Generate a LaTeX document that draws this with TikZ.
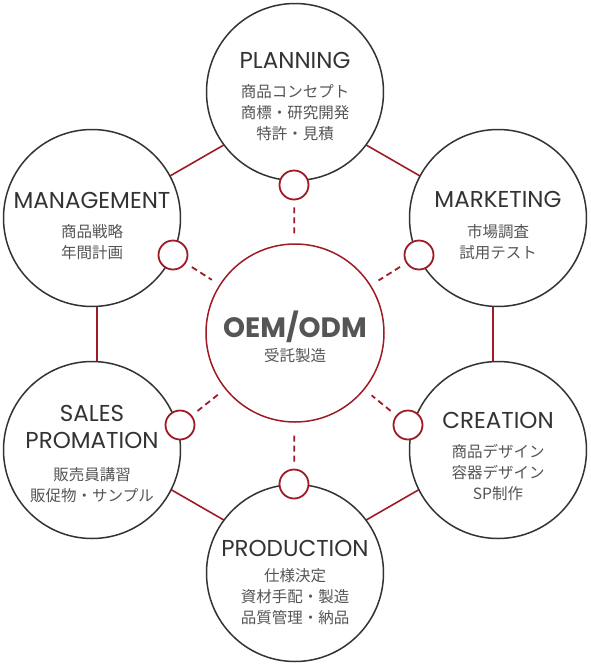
\documentclass[tikz,border=0pt]{standalone}
\usepackage{fontspec}
\setmainfont{Poppins}
\newfontfamily\jpfont{Noto Sans CJK JP}
\definecolor{oemred}{RGB}{158,27,38}
\definecolor{ink}{RGB}{51,51,51}
\definecolor{txtgray}{RGB}{85,85,85}
\tikzset{
	bigcirc/.style={circle,draw=ink,line width=1.5pt,fill=white,minimum size=177pt,inner sep=0pt},
	midcirc/.style={circle,draw=oemred,line width=1.5pt,fill=white,minimum size=178pt,inner sep=0pt},
	dotcirc/.style={circle,draw=oemred,line width=1.8pt,fill=white,minimum size=29pt,inner sep=0pt},
	redline/.style={draw=oemred,line width=1.6pt},
	dashline/.style={draw=oemred,line width=1.8pt,dash pattern=on 6pt off 4pt,shorten <=7pt,shorten >=9pt},
	ttl/.style={text=ink,inner sep=0pt,align=center,font=\fontsize{23}{27}\selectfont},
	jp/.style={text=txtgray,inner sep=0pt,align=center,font=\jpfont\fontsize{15.5}{21}\selectfont}
}
\begin{document}
\begin{tikzpicture}[x=1pt,y=-1pt]
	\useasboundingbox (0,0) rectangle (590,665);
	
	% hexagon behind the circles
	\coordinate (h1) at (295,104);
	\coordinate (h2) at (493,218);
	\coordinate (h3) at (493,447);
	\coordinate (h4) at (295,561);
	\coordinate (h5) at (97,447);
	\coordinate (h6) at (97,218);
	\draw[redline] (h1) -- (h2) -- (h3) -- (h4) -- (h5) -- (h6) -- cycle;
	
	\node[bigcirc] (plan) at (295,92) {};
	\node[bigcirc] (mark) at (498,218) {};
	\node[bigcirc] (crea) at (498,450) {};
	\node[bigcirc] (prod) at (295,573) {};
	\node[bigcirc] (sale) at (92,450) {};
	\node[bigcirc] (mana) at (92,218) {};
	\node[midcirc] (oem) at (295,333) {};
	
	\foreach \n/\x/\y in {st/294/185,ur/419/255,lr/408/425,bt/294/484,ll/180/425,ul/173/255}
		\node[dotcirc] (\n) at (\x,\y) {};
	\foreach \n in {st,ur,lr,bt,ll,ul}
		\draw[dashline] (\n) -- (oem);
	
	\node[ttl] (plan-t) at ([yshift=32pt]plan.center) {PLANNING};
	\node[jp] (plan-j) at ([yshift=-21pt]plan.center) {商品コンセプト\\商標・研究開発\\特許・見積};
	
	\node[ttl] (mark-t) at ([yshift=19pt]mark.center) {MARKETING};
	\node[jp] (mark-j) at ([yshift=-24pt]mark.center) {市場調査\\試用テスト};
	
	\node[ttl] (crea-t) at ([yshift=30pt]crea.center) {CREATION};
	\node[jp] (crea-j) at ([yshift=-23pt]crea.center) {商品デザイン\\容器デザイン\\SP制作};
	
	\node[ttl] (prod-t) at ([yshift=25pt]prod.center) {PRODUCTION};
	\node[jp] (prod-j) at ([yshift=-24pt]prod.center) {仕様決定\\資材手配・製造\\品質管理・納品};
	
	\node[ttl] (sale-t) at ([yshift=23.5pt]sale.center) {SALES\\PROMATION};
	\node[jp] (sale-j) at ([yshift=-35pt]sale.center) {販売員講習\\販促物・サンプル};
	
	\node[ttl] (mana-t) at ([yshift=18pt]mana.center) {MANAGEMENT};
	\node[jp] (mana-j) at ([yshift=-24pt]mana.center) {商品戦略\\年間計画};
	
	\node[ttl,text=txtgray,font=\bfseries\fontsize{28}{30}\selectfont] (oem-t) at ([yshift=6pt]oem.center) {OEM/ODM};
	\node[jp] (oem-j) at ([yshift=-23pt]oem.center) {受託製造};
\end{tikzpicture}
\end{document}
